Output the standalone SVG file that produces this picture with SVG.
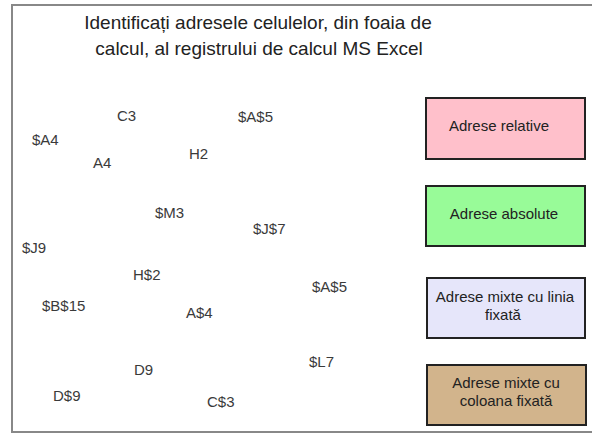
<svg xmlns="http://www.w3.org/2000/svg" width="592" height="435" viewBox="0 0 592 435">
<style>
text{font-family:"Liberation Sans",Arial,sans-serif;}
.t{font-size:19px;fill:#222;text-anchor:middle;}
.l{font-size:15px;fill:#3a3a3a;}
.b{stroke:#222;stroke-width:2;}
.bt{font-size:15px;fill:#222;text-anchor:middle;}
</style>
<rect x="0" y="0" width="592" height="435" fill="#fff"/>
<rect id="frame" x="12" y="5" width="600" height="427" fill="#fff" stroke="#888" stroke-width="2"/>
<g id="title">
<text class="t" x="258" y="29">Identificați adresele celulelor, din foaia de</text>
<text class="t" x="259" y="55">calcul, al registrului de calcul MS Excel</text>
</g>
<g id="labels">
<text class="l" x="117" y="121">C3</text>
<text class="l" x="238" y="122">$A$5</text>
<text class="l" x="32" y="145">$A4</text>
<text class="l" x="93" y="168">A4</text>
<text class="l" x="189" y="159">H2</text>
<text class="l" x="155" y="218">$M3</text>
<text class="l" x="253" y="234">$J$7</text>
<text class="l" x="22" y="253">$J9</text>
<text class="l" x="133" y="280">H$2</text>
<text class="l" x="312" y="292">$A$5</text>
<text class="l" x="42" y="311">$B$15</text>
<text class="l" x="186" y="318">A$4</text>
<text class="l" x="309" y="367">$L7</text>
<text class="l" x="134" y="375">D9</text>
<text class="l" x="53" y="401">D$9</text>
<text class="l" x="207" y="407">C$3</text>
</g>
<g id="box-relative">
<rect class="b" x="426" y="98" width="159" height="61" fill="#FFC0CB"/>
<text class="bt" x="499" y="131">Adrese relative</text>
</g>
<g id="box-absolute">
<rect class="b" x="426" y="186" width="159" height="60" fill="#98FB98"/>
<text class="bt" x="504" y="219">Adrese absolute</text>
</g>
<g id="box-mixed-row">
<rect class="b" x="427" y="278" width="158" height="60" fill="#E6E6FA"/>
<text class="bt" x="505" y="302">Adrese mixte cu linia</text>
<text class="bt" x="503" y="320">fixată</text>
</g>
<g id="box-mixed-col">
<rect class="b" x="427" y="365" width="159" height="60" fill="#D2B48C"/>
<text class="bt" x="506" y="388">Adrese mixte cu</text>
<text class="bt" x="506" y="406">coloana fixată</text>
</g>
<g id="connectors"></g>
</svg>
